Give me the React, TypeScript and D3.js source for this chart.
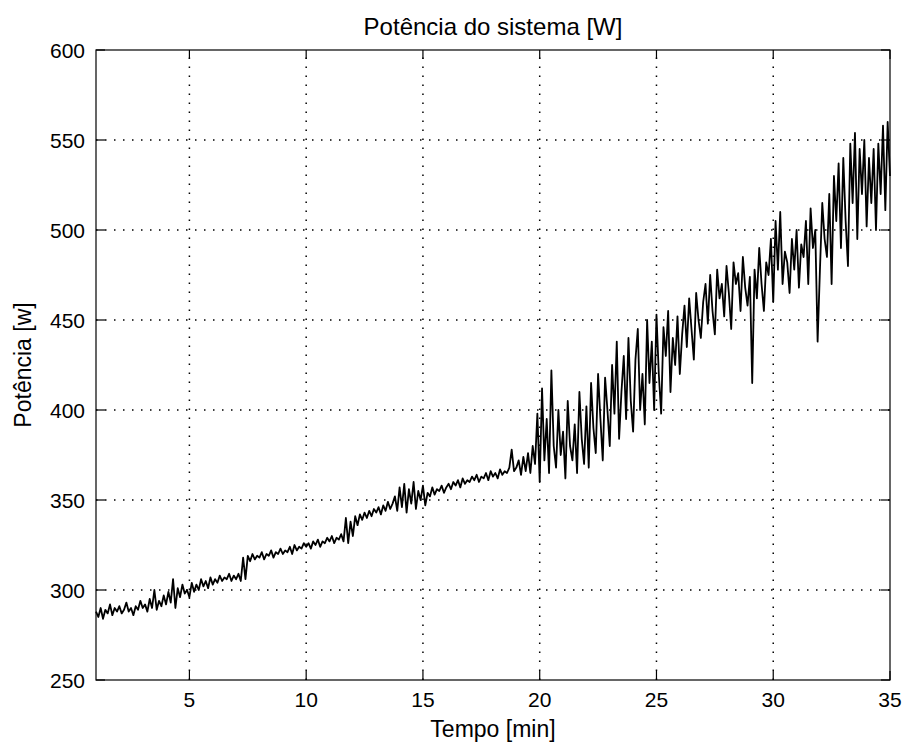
import React from "react";
import * as d3 from "d3";

const startMin = 1.0;
const stepMin = 0.1;

// Power readings [W], one every 0.1 min starting at 1.0 min
const power: number[] = [
  // 1.0 - 1.9
  288, 285, 290, 284, 289, 287, 292, 286, 290, 288,
  // 2.0 - 2.9
  291, 287, 289, 293, 288, 290, 286, 291, 289, 294,
  // 3.0 - 3.9
  290, 292, 288, 295, 290, 300, 289, 294, 291, 297,
  // 4.0 - 4.9
  292, 299, 293, 306, 290, 301, 296, 303, 298, 300,
  // 5.0 - 5.9
  296, 304, 299, 303, 300, 306, 302, 305, 301, 307,
  // 6.0 - 6.9
  303, 306, 304, 308, 305, 307, 306, 309, 305, 308,
  // 7.0 - 7.9
  306, 309, 305, 318, 306, 319, 316, 320, 317, 319,
  // 8.0 - 8.9
  318, 321, 317, 320, 319, 322, 318, 321, 320, 323,
  // 9.0 - 9.9
  320, 322, 321, 324, 320, 325, 322, 324, 323, 326,
  // 10.0 - 10.9
  324, 326, 323, 327, 325, 328, 324, 327, 326, 329,
  // 11.0 - 11.9
  327, 330, 326, 329, 328, 331, 327, 340, 326, 338,
  // 12.0 - 12.9
  330, 341, 336, 342, 339, 343, 340, 344, 341, 345,
  // 13.0 - 13.9
  343, 346, 342, 347, 344, 349, 345, 348, 352, 344,
  // 14.0 - 14.9
  357, 346, 359, 343, 356, 348, 360, 345, 355, 350,
  // 15.0 - 15.9
  358, 347, 354, 352, 357, 353, 356, 355, 358, 354,
  // 16.0 - 16.9
  357, 359, 356, 360, 358, 361, 357, 362, 359, 361,
  // 17.0 - 17.9
  360, 363, 361, 364, 360, 363, 362, 365, 361, 366,
  // 18.0 - 18.9
  363, 365, 362, 367, 364, 366, 365, 368, 378, 366,
  // 19.0 - 19.9
  368, 372, 364, 374, 366, 376, 365, 380, 370, 398,
  // 20.0 - 20.9
  360, 412, 372, 395, 365, 422, 380, 368, 400, 375,
  // 21.0 - 21.9
  388, 362, 405, 380, 372, 392, 365, 410, 384, 370,
  // 22.0 - 22.9
  402, 368, 415, 390, 376, 420, 395, 372, 418, 400,
  // 23.0 - 23.9
  380, 425, 398, 438, 384, 410, 430, 395, 440, 405,
  // 24.0 - 24.9
  388, 428, 445, 400, 420, 392, 450, 415, 438, 400,
  // 25.0 - 25.9
  453, 420, 398, 446, 430, 455, 410, 440, 425, 452,
  // 26.0 - 26.9
  420, 442, 458, 435, 462, 445, 428, 465, 450, 440,
  // 27.0 - 27.9
  460, 470, 448, 475, 455, 442, 478, 462, 470, 452,
  // 28.0 - 28.9
  480, 465, 445, 482, 470, 476, 455, 485, 468, 458,
  // 29.0 - 29.9
  474, 415, 478, 462, 490, 470, 455, 482, 475, 495,
  // 30.0 - 30.9
  460, 505, 478, 510, 470, 488, 482, 465, 495, 478,
  // 31.0 - 31.9
  500, 468, 492, 485, 505, 470, 512, 490, 500, 438,
  // 32.0 - 32.9
  478, 515, 495, 485, 520, 470, 530, 505, 537, 490,
  // 33.0 - 33.9
  540, 505, 480, 548, 515, 554, 495, 545, 520, 550,
  // 34.0 - 34.9
  502, 540, 515, 545, 500, 548, 520, 558, 511, 560,
  // 35.0
  530,
];

const xTicks = [5, 10, 15, 20, 25, 30, 35];
const yTicks = [250, 300, 350, 400, 450, 500, 550, 600];

const title = "Potência do sistema [W]";
const xLabel = "Tempo [min]";
const yLabel = "Potência [w]";

const W = 903;
const H = 742;
const M = { left: 96, right: 890, top: 50, bottom: 680 };
const FONT = "'Liberation Sans', Arial, Helvetica, sans-serif";

export default function App() {
  const x = d3.scaleLinear().domain([1, 35]).range([M.left, M.right]);
  const y = d3.scaleLinear().domain([250, 600]).range([M.bottom, M.top]);

  const line = d3
    .line<number>()
    .x((_, i) => x(startMin + i * stepMin))
    .y((d) => y(d));

  const tickLen = 9;
  const cx = (M.left + M.right) / 2;

  return (
    <svg
      width={W}
      height={H}
      style={{ position: "absolute", left: 0, top: 0, background: "#fff" }}
      fontFamily={FONT}
    >
      <rect x={0} y={0} width={W} height={H} fill="#fff" />
      {/* grid */}
      <g stroke="#000" strokeWidth={1.5} strokeDasharray="1.5 7.5" fill="none">
        {xTicks
          .filter((t) => t > 1 && t < 35)
          .map((t) => (
            <line key={"gx" + t} x1={x(t)} x2={x(t)} y1={M.bottom} y2={M.top} />
          ))}
        {yTicks
          .filter((t) => t > 250 && t < 600)
          .map((t) => (
            <line key={"gy" + t} x1={M.left} x2={M.right} y1={y(t)} y2={y(t)} />
          ))}
      </g>
      {/* data */}
      <path
        d={line(power) || ""}
        fill="none"
        stroke="#000"
        strokeWidth={1.8}
        strokeLinejoin="round"
      />
      {/* axes box */}
      <rect
        x={M.left}
        y={M.top}
        width={M.right - M.left}
        height={M.bottom - M.top}
        fill="none"
        stroke="#000"
        strokeWidth={1.2}
      />
      {/* ticks */}
      <g stroke="#000" strokeWidth={1.2}>
        {xTicks.map((t) => (
          <g key={"tx" + t}>
            <line x1={x(t)} x2={x(t)} y1={M.bottom} y2={M.bottom - tickLen} />
            <line x1={x(t)} x2={x(t)} y1={M.top} y2={M.top + tickLen} />
          </g>
        ))}
        {yTicks.map((t) => (
          <g key={"ty" + t}>
            <line x1={M.left} x2={M.left + tickLen} y1={y(t)} y2={y(t)} />
            <line x1={M.right} x2={M.right - tickLen} y1={y(t)} y2={y(t)} />
          </g>
        ))}
      </g>
      {/* tick labels */}
      <g fontSize={21} fill="#000">
        {xTicks.map((t) => (
          <text key={"lx" + t} x={x(t)} y={707} textAnchor="middle">
            {t}
          </text>
        ))}
        {yTicks.map((t) => (
          <text key={"ly" + t} x={85} y={y(t) + 8} textAnchor="end">
            {t}
          </text>
        ))}
      </g>
      <text x={cx} y={35} textAnchor="middle" fontSize={24} fill="#000">
        {title}
      </text>
      <text x={cx} y={737} textAnchor="middle" fontSize={23} fill="#000">
        {xLabel}
      </text>
      <text
        transform={`translate(31, ${(M.top + M.bottom) / 2}) rotate(-90)`}
        textAnchor="middle"
        fontSize={23}
        fill="#000"
      >
        {yLabel}
      </text>
    </svg>
  );
}
